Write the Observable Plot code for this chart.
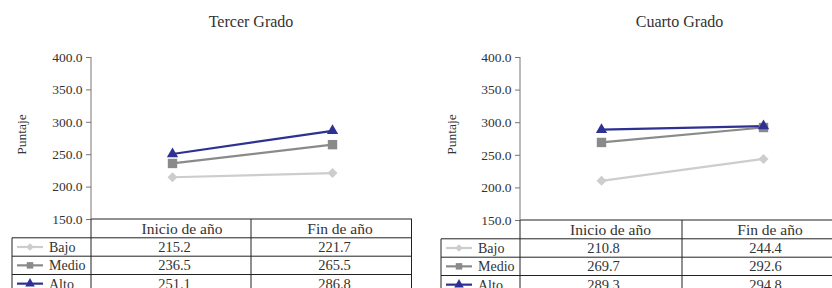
<!DOCTYPE html>
<html><head><meta charset="utf-8">
<script src="https://cdn.jsdelivr.net/npm/d3@7"></script>
<script src="https://cdn.jsdelivr.net/npm/@observablehq/plot@0.6"></script>
<style>
body{margin:0;background:#fff}
#wrap{position:relative;width:832px;height:288px;overflow:hidden;background:#fff}
#wrap svg{position:absolute;top:0}
#wrap svg, #wrap svg text{font-family:"Liberation Serif","DejaVu Serif",serif !important}
</style></head><body><div id="wrap"></div>
<script>
const periods = ["Inicio de año", "Fin de año"];
const series = ["Bajo", "Medio", "Alto"];
const titles = ["Tercer Grado", "Cuarto Grado"];
const tercerBajo = [215.2, 221.7];
const tercerMedio = [236.5, 265.5];
const tercerAlto = [251.1, 286.8];
const cuartoBajo = [210.8, 244.4];
const cuartoMedio = [269.7, 292.6];
const cuartoAlto = [289.3, 294.8];
const yTicks = [150, 200, 250, 300, 350, 400];
const yLabel = "Puntaje";

const colors = {Bajo: "#cdcdcd", Medio: "#8a8a8a", Alto: "#2e3192"};
const fmt1 = d => d.toFixed(1);

function panel(title, values, o) {
  const data = series.flatMap((s, i) => periods.map((p, j) => ({series: s, period: p, value: values[i][j]})));
  const plot = Plot.plot({
    width: o.width, height: 288,
    marginLeft: o.ml, marginRight: o.mr, marginTop: 57, marginBottom: o.mb,
    style: {fontSize: "13.5px", color: "#333", background: "transparent", overflow: "visible"},
    x: {type: "band", domain: periods, padding: 0, axis: null},
    y: {domain: [150, 400], axis: null},
    marks: [
      Plot.axisY({ticks: yTicks, tickFormat: fmt1, tickSize: 5, tickPadding: 4, stroke: "#777", label: null, fontSize: 13.5, fill: "#333"}),
      Plot.line(data, {x: "period", y: "value", z: "series", stroke: d => colors[d.series], strokeWidth: 2.2}),
      Plot.dot(data.filter(d => d.series === "Bajo"), {x: "period", y: "value", symbol: "square", r: 4, rotate: 45, fill: colors.Bajo}),
      Plot.dot(data.filter(d => d.series === "Medio"), {x: "period", y: "value", symbol: "square", r: 5.3, fill: colors.Medio}),
      Plot.dot(data.filter(d => d.series === "Alto"), {x: "period", y: "value", symbol: "triangle", r: 4.2, fill: colors.Alto}),
      Plot.text([title], {frameAnchor: "top", lineAnchor: "middle", dy: -36, dx: o.titleDx, fontSize: 16, fill: "#333"})
    ]
  });
  plot.style.left = o.left + "px";
  const svg = d3.select(plot);
  const xs = plot.scale("x"), ys = plot.scale("y");
  const x0 = xs.range[0], x1 = xs.range[1], bw = xs.bandwidth;
  const top = ys.apply(150), yTop = ys.apply(400);
  const rows = [top, top + 18.8, top + 37.2, top + 55.5, top + 73.8];
  const lx = o.legendLeft;
  const g = svg.append("g").attr("stroke", "#222").attr("stroke-width", 1).attr("fill", "none");
  const hl = (xa, xb, y) => g.append("line").attr("x1", xa).attr("x2", xb).attr("y1", y).attr("y2", y);
  const vl = (x, ya, yb, c) => g.append("line").attr("x1", x).attr("x2", x).attr("y1", ya).attr("y2", yb).attr("stroke", c || "#222");
  hl(x0, x1, top);
  for (let i = 1; i < rows.length; i++) hl(lx, x1, rows[i]);
  vl(x0, yTop, top, "#777");
  vl(x0, top, rows[4]);
  vl(x0 + bw, top, rows[4]);
  vl(x1 - 0.5, top, rows[4]);
  vl(lx, rows[1], rows[4]);
  const tg = svg.append("g").attr("fill", "#333");
  periods.forEach((p, j) => {
    const cx = xs.apply(p) + bw / 2;
    tg.append("text").attr("x", cx + o.headDx[j]).attr("y", (rows[0] + rows[1]) / 2).attr("dy", "0.35em").attr("text-anchor", "middle").attr("font-size", 15.5).text(p);
    series.forEach((s, i) => {
      tg.append("text").attr("x", cx + 2.5).attr("y", (rows[i + 1] + rows[i + 2]) / 2).attr("dy", "0.35em").attr("text-anchor", "middle").attr("font-size", 14.5).text(fmt1(values[i][j]));
    });
  });
  const syms = {Bajo: d3.symbol(d3.symbolSquare, 30), Medio: d3.symbol(d3.symbolSquare, 42), Alto: d3.symbol(d3.symbolTriangle, 40)};
  series.forEach((s, i) => {
    const cy = (rows[i + 1] + rows[i + 2]) / 2;
    svg.append("line").attr("x1", lx + 5).attr("x2", lx + 31).attr("y1", cy).attr("y2", cy).attr("stroke", colors[s]).attr("stroke-width", 2.2);
    svg.append("path").attr("d", syms[s]()).attr("fill", colors[s]).attr("transform", `translate(${lx + 18},${cy})` + (s === "Bajo" ? " rotate(45)" : ""));
    tg.append("text").attr("x", lx + 37).attr("y", cy).attr("dy", "0.35em").attr("text-anchor", "start").attr("font-size", 14).text(s);
  });
  svg.append("text").attr("transform", `translate(${o.labelX},134.5) rotate(-90)`).attr("text-anchor", "middle").attr("dy", "0.35em").attr("font-size", 13.5).attr("fill", "#333").text(yLabel);
  return plot;
}

const wrap = document.getElementById("wrap");
wrap.appendChild(panel(titles[0], [tercerBajo, tercerMedio, tercerAlto], {left: 0, width: 416, ml: 91, mr: 4, mb: 69, legendLeft: 12, labelX: 21, titleDx: -1, headDx: [10, 8]}));
wrap.appendChild(panel(titles[1], [cuartoBajo, cuartoMedio, cuartoAlto], {left: 416, width: 430, ml: 104, mr: 2, mb: 68, legendLeft: 25, labelX: 35, titleDx: -3, headDx: [9.5, 7]}));
</script></body></html>
